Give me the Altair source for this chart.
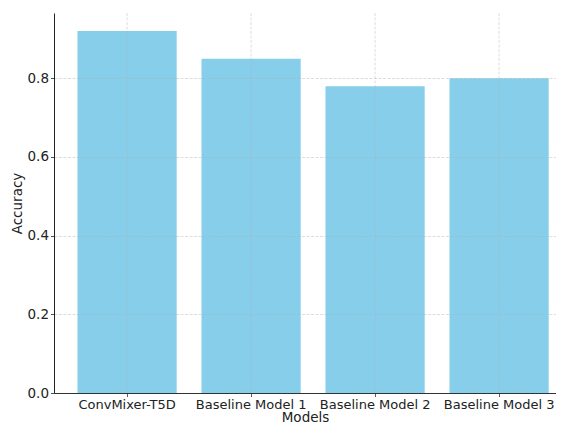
import altair as alt
import pandas as pd

models = ["ConvMixer-T5D", "Baseline Model 1", "Baseline Model 2", "Baseline Model 3"]
accuracy = [0.92, 0.85, 0.78, 0.80]
y_ticks = [0.0, 0.2, 0.4, 0.6, 0.8]

df = pd.DataFrame({"Models": models, "Accuracy": accuracy})

FONT = "DejaVu Sans"
FS = 13.5
GRID_COLOR = "#b0b0b0"
GRID_OPACITY = 0.55
GRID_DASH = [3, 1.5]

common = dict(
    tickSize=3.5,
    tickWidth=0.8,
    domainWidth=1,
    titleFontSize=FS,
    labelColor="#222222",
    titleColor="#222222",
    titleFontWeight="normal",
    zindex=1,
)

x_enc = alt.X(
    "Models:N",
    sort=None,
    scale=alt.Scale(paddingInner=0.2, paddingOuter=0.1242, align=0.763),
    axis=alt.Axis(
        title="Models",
        labelAngle=0,
        labelFontSize=13,
        grid=False,
        tickColor="#333333",
        domainColor="#333333",
        labelPadding=1.5,
        titlePadding=-1,
        **common,
    ),
)

y_enc = alt.Y(
    "Accuracy:Q",
    scale=alt.Scale(domain=[0, 0.966], nice=False, zero=True),
    axis=alt.Axis(
        title="Accuracy",
        values=y_ticks,
        format=".1f",
        labelFontSize=FS,
        grid=True,
        gridDash=GRID_DASH,
        gridColor=GRID_COLOR,
        gridOpacity=GRID_OPACITY,
        gridWidth=0.8,
        tickColor="#222222",
        domainColor="#222222",
        labelPadding=2,
        titlePadding=3,
        **common,
    ),
)

bars = alt.Chart(df).mark_bar(color="#87CEEB").encode(x=x_enc, y=y_enc)

vgrid = alt.Chart(df).mark_rule(
    color=GRID_COLOR, opacity=GRID_OPACITY, strokeDash=GRID_DASH, strokeWidth=0.8
).encode(x=alt.X("Models:N", sort=None))

chart = alt.layer(bars, vgrid).properties(
    width=502,
    height=380,
    autosize=alt.AutoSizeParams(type="none"),
    padding={"left": 46, "top": 5, "right": 0, "bottom": 31},
).configure(
    font=FONT,
).configure_view(
    stroke=None,
)

chart.save("out.html", embed_options={"renderer": "svg", "actions": False})
